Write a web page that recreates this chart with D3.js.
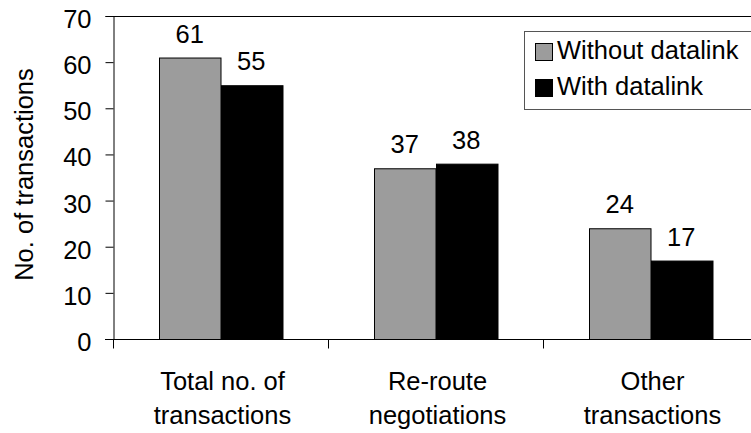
<!DOCTYPE html>
<html><head><meta charset="utf-8">
<script src="https://cdn.jsdelivr.net/npm/d3@7"></script>
<style>body{margin:0;background:#fff}svg{display:block}text{font-family:"Liberation Sans",Arial,sans-serif;fill:#000}</style>
</head><body><svg id="c" width="751" height="433"></svg>
<script>
const categories = ["Total no. of|transactions", "Re-route|negotiations", "Other|transactions"];
const seriesNames = ["Without datalink", "With datalink"];
const withoutDatalink = [61, 37, 24];
const withDatalink = [55, 38, 17];
const yTicks = [0, 10, 20, 30, 40, 50, 60, 70];
const colors = ["#9c9c9c", "#000000"];

const FS = "25.5px";
const svg = d3.select("#c");
const plotLeft = 113, plotTop = 16, plotBottom = 339, rightEdge = 751;
const y = d3.scaleLinear().domain([0, 70]).range([plotBottom, plotTop]);
const x = d3.scaleBand().domain(categories).range([plotLeft, 758]).padding(0);
const xs = d3.scaleBand().domain(seriesNames).range([0, x.bandwidth()]).paddingInner(0).paddingOuter(0.748);
const values = [withoutDatalink, withDatalink];

// top border
svg.append("line").attr("x1", plotLeft).attr("x2", rightEdge).attr("y1", plotTop + 0.5).attr("y2", plotTop + 0.5).attr("stroke", "#000").attr("stroke-width", 1);

// y axis
const yAxis = d3.axisLeft(y).tickValues(yTicks).tickSize(8).tickPadding(14);
const gy = svg.append("g").attr("transform", `translate(${plotLeft + 0.5},0)`).call(yAxis);
gy.select(".domain").attr("stroke", "#000");
gy.selectAll("line").attr("stroke", "#000");
gy.selectAll("text").style("font-size", FS).attr("fill", "#000").attr("dy", "0.45em");

// bars
const groups = svg.append("g").selectAll("g").data(categories).join("g")
  .attr("transform", d => `translate(${x(d)},0)`);
groups.selectAll("rect").data((d, i) => seriesNames.map((s, j) => ({ s, v: values[j][i], j })))
  .join("rect")
  .attr("x", d => Math.round(xs(d.s)) + 0.5)
  .attr("y", d => y(d.v) + 0.5)
  .attr("width", xs.bandwidth())
  .attr("height", d => y(0) - y(d.v))
  .attr("fill", d => colors[d.j])
  .attr("stroke", "#000").attr("stroke-width", 1);
groups.selectAll("text.val").data((d, i) => seriesNames.map((s, j) => ({ s, v: values[j][i] })))
  .join("text").attr("class", "val")
  .attr("x", d => xs(d.s) + xs.bandwidth() / 2)
  .attr("y", d => y(d.v) - 15)
  .attr("text-anchor", "middle").style("font-size", FS)
  .text(d => d.v);

// x axis
const gx = svg.append("g").attr("transform", `translate(0,${plotBottom + 0.5})`);
gx.append("line").attr("x1", plotLeft - 8).attr("x2", rightEdge).attr("stroke", "#000");
const boundaries = categories.map(c => x(c)).concat([x(categories[categories.length - 1]) + x.bandwidth()]);
gx.selectAll("line.tk").data(boundaries).join("line").attr("class", "tk")
  .attr("x1", d => Math.round(d) + 0.5).attr("x2", d => Math.round(d) + 0.5)
  .attr("y1", 0).attr("y2", 9).attr("stroke", "#000");
gx.selectAll("text").data(categories).join("text")
  .attr("text-anchor", "middle").style("font-size", FS)
  .attr("transform", d => `translate(${x(d) + x.bandwidth() / 2 + 2},0)`)
  .each(function (d) {
    const t = d3.select(this);
    d.split("|").forEach((line, k) => t.append("tspan").attr("x", 0).attr("y", 50 + k * 34).text(line));
  });

// y title
svg.append("text").attr("transform", `translate(33,${(plotTop + plotBottom) / 2 - 3}) rotate(-90)`)
  .attr("text-anchor", "middle").style("font-size", FS).text("No. of transactions");

// legend
const lg = svg.append("g").attr("transform", "translate(524,31)");
lg.append("rect").attr("x", 0.5).attr("y", 0.5).attr("width", 260).attr("height", 78).attr("fill", "#fff").attr("stroke", "#555");
seriesNames.forEach((s, i) => {
  lg.append("rect").attr("x", 11.5).attr("y", 12.5 + i * 36).attr("width", 17).attr("height", 17)
    .attr("fill", colors[i]).attr("stroke", "#000");
  lg.append("text").attr("x", 33).attr("y", 28 + i * 36).style("font-size", FS).text(s);
});
</script></body></html>
